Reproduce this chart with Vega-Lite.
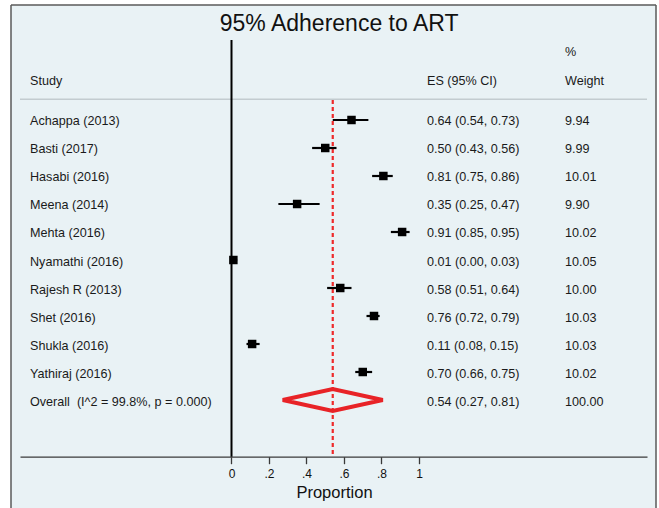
{
  "$schema": "https://vega.github.io/schema/vega-lite/v6.json",
  "autosize": "none",
  "padding": {"left": 11, "top": 5, "right": 3, "bottom": 0},
  "width": 645,
  "height": 503,
  "background": "white",
  "config": {
    "font": "Liberation Sans",
    "view": {"fill": "#e9f2f5", "stroke": null}
  },
  "data": {
    "values": [
      {"order": 1, "study": "Achappa (2013)", "kind": "study", "es": 0.64, "lo": 0.54, "hi": 0.73, "es_ci": "0.64 (0.54, 0.73)", "weight": "9.94"},
      {"order": 2, "study": "Basti (2017)", "kind": "study", "es": 0.50, "lo": 0.43, "hi": 0.56, "es_ci": "0.50 (0.43, 0.56)", "weight": "9.99"},
      {"order": 3, "study": "Hasabi (2016)", "kind": "study", "es": 0.81, "lo": 0.75, "hi": 0.86, "es_ci": "0.81 (0.75, 0.86)", "weight": "10.01"},
      {"order": 4, "study": "Meena (2014)", "kind": "study", "es": 0.35, "lo": 0.25, "hi": 0.47, "es_ci": "0.35 (0.25, 0.47)", "weight": "9.90"},
      {"order": 5, "study": "Mehta (2016)", "kind": "study", "es": 0.91, "lo": 0.85, "hi": 0.95, "es_ci": "0.91 (0.85, 0.95)", "weight": "10.02"},
      {"order": 6, "study": "Nyamathi (2016)", "kind": "study", "es": 0.01, "lo": 0.00, "hi": 0.03, "es_ci": "0.01 (0.00, 0.03)", "weight": "10.05"},
      {"order": 7, "study": "Rajesh R (2013)", "kind": "study", "es": 0.58, "lo": 0.51, "hi": 0.64, "es_ci": "0.58 (0.51, 0.64)", "weight": "10.00"},
      {"order": 8, "study": "Shet (2016)", "kind": "study", "es": 0.76, "lo": 0.72, "hi": 0.79, "es_ci": "0.76 (0.72, 0.79)", "weight": "10.03"},
      {"order": 9, "study": "Shukla (2016)", "kind": "study", "es": 0.11, "lo": 0.08, "hi": 0.15, "es_ci": "0.11 (0.08, 0.15)", "weight": "10.03"},
      {"order": 10, "study": "Yathiraj (2016)", "kind": "study", "es": 0.70, "lo": 0.66, "hi": 0.75, "es_ci": "0.70 (0.66, 0.75)", "weight": "10.02"},
      {"order": 11, "study": "Overall\u00a0 (I^2 = 99.8%, p = 0.000)", "kind": "overall", "es": 0.54, "lo": 0.27, "hi": 0.81, "es_ci": "0.54 (0.27, 0.81)", "weight": "100.00"}
    ]
  },
  "encoding": {
    "x": {
      "type": "quantitative",
      "scale": {"domain": [-1.128, 2.216], "range": [9, 636], "nice": false, "zero": false},
      "axis": {
        "values": [0, 0.2, 0.4, 0.6, 0.8, 1],
        "labelExpr": "datum.value == 0 || datum.value == 1 ? format(datum.value, 'd') : substring(format(datum.value, '.1f'), 1)",
        "offset": -51.3,
        "grid": false,
        "domainColor": "#3a3a3a",
        "domainWidth": 1.3,
        "tickColor": "#3a3a3a",
        "tickWidth": 1.3,
        "tickSize": 7,
        "labelFont": "Liberation Sans",
        "labelFontSize": 12,
        "labelColor": "#111111",
        "labelPadding": 5,
        "labelFlush": false,
        "labelOverlap": false,
        "title": "Proportion",
        "titleFont": "Liberation Sans",
        "titleFontSize": 16.5,
        "titleFontWeight": "normal",
        "titleColor": "#111111",
        "titleX": 323,
        "titleY": 40.5,
        "titleAlign": "center",
        "titleBaseline": "alphabetic",
        "titleAnchor": null
      }
    },
    "y": {
      "type": "quantitative",
      "scale": {"domain": [-3.107, 14.857], "range": [0, 503], "nice": false, "zero": false},
      "axis": null
    }
  },
  "layer": [
    {
      "data": {"values": [{}]},
      "mark": {"type": "rule", "color": "#5a5a5a", "strokeWidth": 1.5},
      "encoding": {
        "x": {"datum": -1.176},
        "x2": {"datum": 2.264},
        "y": {"datum": -3.107}
      }
    },
    {
      "data": {"values": [{}]},
      "mark": {"type": "rule", "color": "#5a5a5a", "strokeWidth": 1.5},
      "encoding": {
        "x": {"datum": -1.176},
        "y": {"datum": -3.107},
        "y2": {"datum": 14.857}
      }
    },
    {
      "data": {"values": [{}]},
      "mark": {"type": "rule", "color": "#5a5a5a", "strokeWidth": 1.5},
      "encoding": {
        "x": {"datum": 2.264},
        "y": {"datum": -3.107},
        "y2": {"datum": 14.857}
      }
    },
    {
      "data": {"values": [{"label": "95% Adherence to ART"}]},
      "mark": {"type": "text", "align": "center", "baseline": "alphabetic", "fontSize": 23, "color": "#111111"},
      "encoding": {"x": {"datum": 0.574}, "y": {"datum": -2.161}, "text": {"field": "label"}}
    },
    {
      "data": {"values": [{}]},
      "mark": {"type": "rule", "color": "#c3ccd0", "strokeWidth": 1.5},
      "encoding": {
        "x": {"datum": -1.128},
        "x2": {"datum": 2.216},
        "y": {"datum": 0.261}
      }
    },
    {
      "data": {"values": [{}]},
      "mark": {"type": "rule", "color": "#000000", "strokeWidth": 2},
      "encoding": {
        "x": {"datum": 0},
        "y": {"datum": -1.857},
        "y2": {"datum": 13.025}
      }
    },
    {
      "transform": [{"filter": "datum.kind == 'overall'"}],
      "mark": {"type": "rule", "color": "#ee2a2a", "strokeWidth": 2.2, "strokeDash": [4, 3]},
      "encoding": {
        "x": {"field": "es"},
        "y": {"datum": 0.29},
        "y2": {"datum": 13.025}
      }
    },
    {
      "transform": [{"filter": "datum.kind == 'study'"}],
      "mark": {"type": "rule", "color": "#000000", "strokeWidth": 2.2},
      "encoding": {
        "x": {"field": "lo"},
        "x2": {"field": "hi"},
        "y": {"field": "order"}
      }
    },
    {
      "transform": [{"filter": "datum.kind == 'study'"}],
      "mark": {"type": "point", "shape": "square", "filled": true, "color": "#000000", "size": 72, "opacity": 1},
      "encoding": {
        "x": {"field": "es"},
        "y": {"field": "order"}
      }
    },
    {
      "transform": [{"filter": "datum.kind == 'overall'"}],
      "mark": {"type": "point", "shape": "M-1,0L0,-0.218L1,0L0,0.218Z", "filled": false, "stroke": "#e82327", "strokeWidth": 4, "size": 10000, "opacity": 1},
      "encoding": {
        "x": {"field": "es"},
        "y": {"field": "order"}
      }
    },
    {
      "mark": {"type": "text", "align": "left", "baseline": "middle", "fontSize": 12.6, "color": "#1a1a1a", "dy": 1.5},
      "encoding": {
        "x": {"datum": -1.0747},
        "y": {"field": "order"},
        "text": {"field": "study"}
      }
    },
    {
      "mark": {"type": "text", "align": "left", "baseline": "middle", "fontSize": 12.6, "color": "#1a1a1a", "dy": 1.5},
      "encoding": {
        "x": {"datum": 1.0427},
        "y": {"field": "order"},
        "text": {"field": "es_ci"}
      }
    },
    {
      "mark": {"type": "text", "align": "left", "baseline": "middle", "fontSize": 12.6, "color": "#1a1a1a", "dy": 1.5},
      "encoding": {
        "x": {"datum": 1.7787},
        "y": {"field": "order"},
        "text": {"field": "weight"}
      }
    },
    {
      "data": {"values": [{"label": "Study"}]},
      "mark": {"type": "text", "align": "left", "baseline": "middle", "fontSize": 12.6, "color": "#1a1a1a"},
      "encoding": {"x": {"datum": -1.0747}, "y": {"datum": -0.404}, "text": {"field": "label"}}
    },
    {
      "data": {"values": [{"label": "ES (95% CI)"}]},
      "mark": {"type": "text", "align": "left", "baseline": "middle", "fontSize": 12.6, "color": "#1a1a1a"},
      "encoding": {"x": {"datum": 1.0427}, "y": {"datum": -0.404}, "text": {"field": "label"}}
    },
    {
      "data": {"values": [{"label": "Weight"}]},
      "mark": {"type": "text", "align": "left", "baseline": "middle", "fontSize": 12.6, "color": "#1a1a1a"},
      "encoding": {"x": {"datum": 1.7787}, "y": {"datum": -0.404}, "text": {"field": "label"}}
    },
    {
      "data": {"values": [{"label": "%"}]},
      "mark": {"type": "text", "align": "left", "baseline": "middle", "fontSize": 12.6, "color": "#1a1a1a"},
      "encoding": {"x": {"datum": 1.7787}, "y": {"datum": -1.411}, "text": {"field": "label"}}
    }
  ]
}
